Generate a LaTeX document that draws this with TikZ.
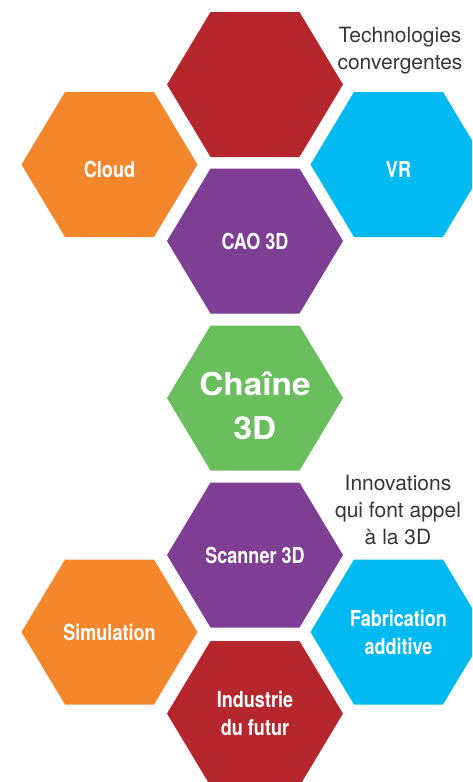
\documentclass[tikz,border=0pt]{standalone}
\usepackage{fontspec}
\usepackage{tikz}
\usetikzlibrary{calc}
\setmainfont{TeX Gyre Heros}
\newfontfamily\hexfont[FakeStretch=0.82]{TeX Gyre Heros}
\newfontfamily\titlefont[FakeStretch=1.06]{TeX Gyre Heros}
\definecolor{red3d}{RGB}{181,39,45}
\definecolor{orange3d}{RGB}{244,134,44}
\definecolor{blue3d}{RGB}{0,186,241}
\definecolor{purple3d}{RGB}{126,62,148}
\definecolor{green3d}{RGB}{106,190,94}
\definecolor{note3d}{RGB}{55,55,55}
\def\hexa[#1](#2){\fill[#1] ($(#2)+(-88,0)$) -- ++(43.5,-72.5) -- ++(89,0) -- ++(43.5,72.5) -- ++(-43.5,72.5) -- ++(-89,0) -- cycle;}
\tikzset{
  hexlabel/.style={font=\hexfont\bfseries\fontsize{22}{28.5}\selectfont, text=white, align=center, inner sep=0pt},
  hexword/.style={hexlabel, text height=16pt, text depth=0pt},
  note/.style={font=\fontsize{21}{27}\selectfont, text=note3d, align=center, inner sep=0pt, anchor=north}
}
\begin{document}
\begin{tikzpicture}[x=1pt,y=-1pt]
		\useasboundingbox (0,0) rectangle (472,782);
		\clip (0,0) rectangle (472,782);
		%%%%% TECHNOLOGIES %%%%%
		\coordinate (converge) at (255,84.5);
		\coordinate (cloud) at (109.5,164.5);
		\coordinate (vr) at (398.5,164.5);
		\coordinate (cao) at (255,241);
		
		\hexa[red3d](converge)
		\hexa[orange3d](cloud)
		\hexa[blue3d](vr)
		\hexa[purple3d](cao)
		
		\node[hexword] (cloudtxt) at ($(cloud)+(0,4.5)$) {Cloud};
		\node[hexword] (vrtxt) at ($(vr)+(0,4.5)$) {VR};
		\node[hexword] (caotxt) at (cao) {CAO 3D};
		\node[note] (technote) at (400,27) {Technologies\\convergentes};
		
		%%%%% CENTRE %%%%%
		\coordinate (chaine) at (255,398);
		\hexa[green3d](chaine)
		\node[font=\titlefont\bfseries\fontsize{31.5}{44}\selectfont, text=white, align=center, inner sep=0pt] (chainetxt) at ($(chaine)+(0,8)$) {Chaîne\\3D};
		
		%%%%% INNOVATIONS %%%%%
		\coordinate (scanner) at (255,555);
		\coordinate (simul) at (109.5,632);
		\coordinate (fabric) at (398.5,632);
		\coordinate (industrie) at (255,713.5);
		
		\hexa[purple3d](scanner)
		\hexa[orange3d](simul)
		\hexa[blue3d](fabric)
		\hexa[red3d](industrie)
		
		\node[hexword] (scannertxt) at (scanner) {Scanner 3D};
		\node[hexword] (simultxt) at (simul) {Simulation};
		\node[hexlabel] (fabrictxt) at ($(fabric)+(0,0.5)$) {Fabrication\\additive};
		\node[hexlabel] (industrietxt) at (industrie) {Industrie\\du futur};
		\node[note] (innovnote) at (398,475) {Innovations\\qui font appel\\à la 3D};
		%%%%% END %%%%%
	\end{tikzpicture}
\end{document}
